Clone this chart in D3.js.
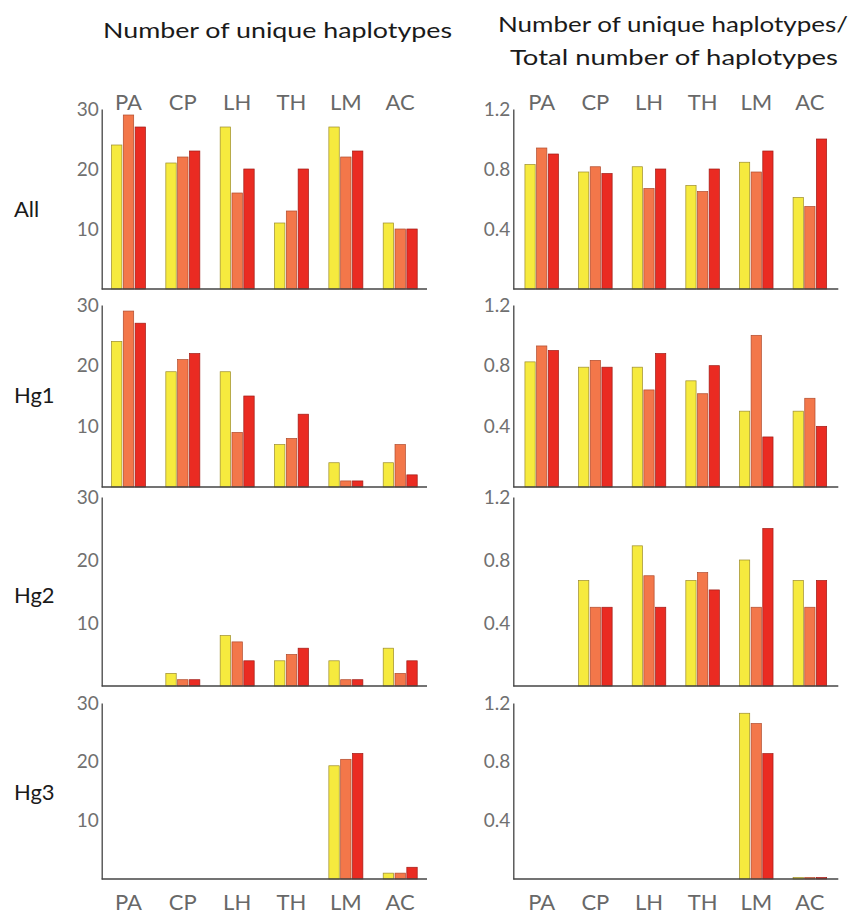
<!DOCTYPE html>
<html>
<head>
    <title>Unique haplotypes</title>
    <script src="https://d3js.org/d3.v7.min.js"></script>
    <style>
        body { margin: 0; background: #fff; }
        text { font-family: Lato, "Open Sans", sans-serif; }
    </style>
</head>
<body>
    <svg width="865" height="915"></svg>
    <script>
        // sites, groups of haplotypes
        var categories = ["PA", "CP", "LH", "TH", "LM", "AC"];
        var rowNames = ["All", "Hg1", "Hg2", "Hg3"];

        // number of unique haplotypes, three bars per site
        var countAll = [[24, 29, 27], [21, 22, 23], [27, 16, 20], [11, 13, 20], [27, 22, 23], [11, 10, 10]];
        var countHg1 = [[24, 29, 27], [19, 21, 22], [19, 9, 15], [7, 8, 12], [4, 1, 1], [4, 7, 2]];
        var countHg2 = [[0, 0, 0], [2, 1, 1], [8, 7, 4], [4, 5, 6], [4, 1, 1], [6, 2, 4]];
        var countHg3 = [[0, 0, 0], [0, 0, 0], [0, 0, 0], [0, 0, 0], [19.3, 20.4, 21.4], [1, 1, 2]];

        // unique / total haplotypes
        var ratioAll = [[0.83, 0.94, 0.90], [0.78, 0.815, 0.77], [0.815, 0.67, 0.80], [0.69, 0.65, 0.80], [0.845, 0.78, 0.92], [0.61, 0.55, 1.0]];
        var ratioHg1 = [[0.825, 0.93, 0.90], [0.79, 0.835, 0.79], [0.79, 0.64, 0.88], [0.70, 0.615, 0.80], [0.50, 1.0, 0.33], [0.50, 0.585, 0.40]];
        var ratioHg2 = [[0, 0, 0], [0.67, 0.50, 0.50], [0.89, 0.70, 0.50], [0.67, 0.72, 0.61], [0.80, 0.50, 1.0], [0.67, 0.50, 0.67]];
        var ratioHg3 = [[0, 0, 0], [0, 0, 0], [0, 0, 0], [0, 0, 0], [1.13, 1.06, 0.855], [0.01, 0.01, 0.01]];

        var countTicks = [10, 20, 30];
        var ratioTicks = [0.4, 0.8, 1.2];

        var svg = d3.select("svg");

        var fills = ["#f6ea3e", "#f3774a", "#ea2b22"];
        var strokes = ["#9c8c2c", "#b04a2c", "#a01c16"];

        // vertical placement of the four rows
        var rowBox = [
            { top: 109, base: 289 },
            { top: 305, base: 487 },
            { top: 497, base: 686 },
            { top: 703, base: 879 }
        ];

        var columns = [
            { left: 101.7, right: 427, outer: 0.18, max: 30, ticks: countTicks, fmt: d3.format("d"),
              data: [countAll, countHg1, countHg2, countHg3] },
            { left: 513.3, right: 838.3, outer: 0.217, max: 1.2, ticks: ratioTicks, fmt: d3.format(".1f"),
              data: [ratioAll, ratioHg1, ratioHg2, ratioHg3] }
        ];

        columns.forEach(function(col) {
            var x = d3.scaleBand()
                .domain(categories)
                .range([col.left, col.right])
                .paddingInner(0.374)
                .paddingOuter(col.outer);

            var xs = d3.scaleBand()
                .domain([0, 1, 2])
                .range([0, x.bandwidth()])
                .paddingInner(0.12);

            col.data.forEach(function(rowData, r) {
                var box = rowBox[r];
                var y = d3.scaleLinear().domain([0, col.max]).range([box.base, box.top]);

                var g = svg.append("g");

                var groups = g.selectAll(".site")
                    .data(rowData)
                    .enter().append("g")
                    .attr("class", "site")
                    .attr("transform", function(d, i) { return "translate(" + x(categories[i]) + ",0)"; });

                groups.selectAll("rect")
                    .data(function(d) { return d.filter(function(v) { return v > 0; }).length ? d : []; })
                    .enter().append("rect")
                    .attr("x", function(d, i) { return xs(i); })
                    .attr("width", xs.bandwidth())
                    .attr("y", function(d) { return y(d); })
                    .attr("height", function(d) { return box.base - y(d); })
                    .style("fill", function(d, i) { return fills[i]; })
                    .style("stroke", function(d, i) { return strokes[i]; })
                    .style("stroke-width", 0.7);

                // y axis
                var axis = g.append("g")
                    .attr("transform", "translate(" + col.left + ",0)")
                    .call(d3.axisLeft(y).tickValues(col.ticks).tickFormat(col.fmt).tickSize(0).tickPadding(3));
                axis.select(".domain").attr("stroke", "#444").attr("stroke-width", 1.3);
                axis.selectAll("text")
                    .style("font-size", "19px")
                    .style("fill", "#707070")
                    .style("font-family", "Lato, sans-serif");

                // baseline
                g.append("line")
                    .attr("x1", col.left).attr("x2", col.right)
                    .attr("y1", box.base).attr("y2", box.base)
                    .attr("stroke", "#444").attr("stroke-width", 1.3);
            });

            // site labels at top and bottom
            [110, 910].forEach(function(yy) {
                svg.append("g").selectAll("text")
                    .data(categories)
                    .enter().append("text")
                    .attr("x", function(d) { return x(d) + x.bandwidth() / 2; })
                    .attr("y", yy)
                    .attr("text-anchor", "middle")
                    .style("font-size", "22px")
                    .style("fill", "#686868")
                    .text(function(d) { return d; });
            });
        });

        // row labels
        var rowLabelY = [217, 403, 603, 800];
        svg.append("g").selectAll("text")
            .data(rowNames)
            .enter().append("text")
            .attr("x", 14)
            .attr("y", function(d, i) { return rowLabelY[i]; })
            .style("font-size", "22px")
            .style("fill", "#1a1a1a")
            .text(function(d) { return d; });

        // titles
        var titles = [
            { text: "Number of unique haplotypes", x: 277.5, y: 38, len: 349 },
            { text: "Number of unique haplotypes/", x: 673, y: 32, len: 350 },
            { text: "Total number of haplotypes", x: 674, y: 65, len: 328 }
        ];
        svg.append("g").selectAll("text")
            .data(titles)
            .enter().append("text")
            .attr("x", function(d) { return d.x; })
            .attr("y", function(d) { return d.y; })
            .attr("text-anchor", "middle")
            .attr("textLength", function(d) { return d.len; })
            .attr("lengthAdjust", "spacingAndGlyphs")
            .style("font-size", "22px")
            .style("fill", "#1a1a1a")
            .text(function(d) { return d.text; });
    </script>
</body>
</html>
